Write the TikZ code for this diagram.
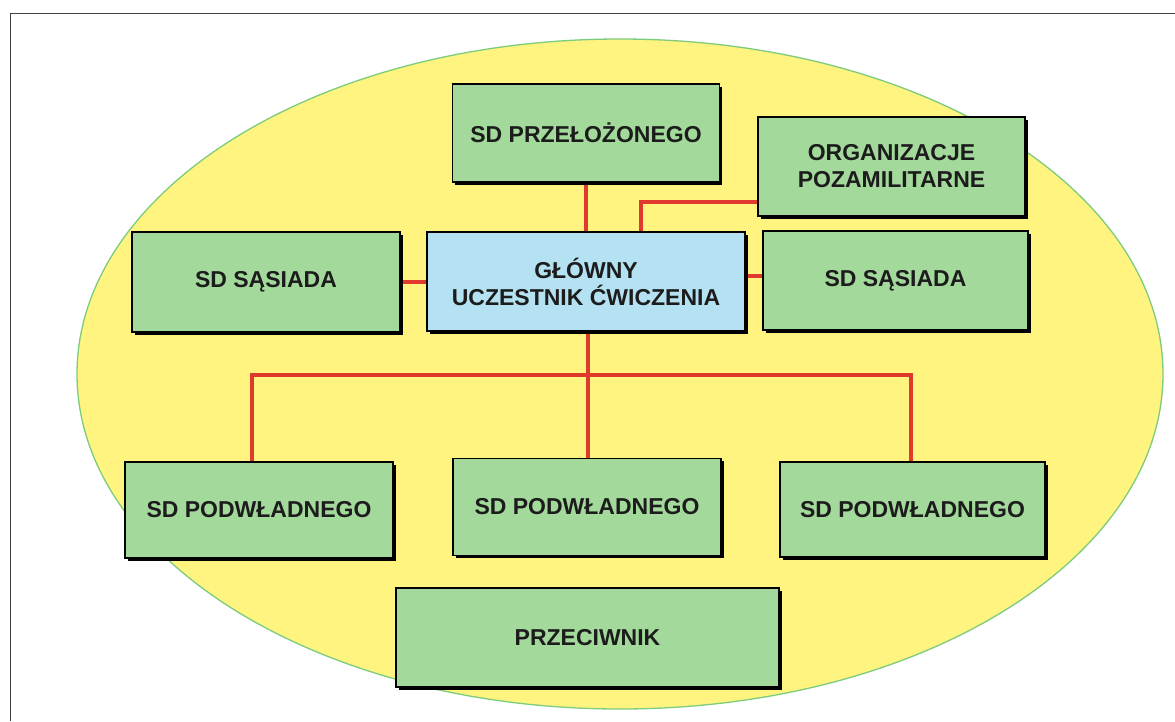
\documentclass[tikz,border=0pt]{standalone}
\usepackage{fontspec}
\setmainfont{Liberation Sans}
\usetikzlibrary{shadows,backgrounds}
\definecolor{ellfill}{HTML}{FFF47F}
\definecolor{ellline}{HTML}{7DCB7D}
\definecolor{boxgreen}{HTML}{A3D99B}
\definecolor{boxblue}{HTML}{B4E2F2}
\definecolor{conred}{HTML}{E0392E}
\definecolor{txt}{HTML}{1C1C1C}
\begin{document}
\begin{tikzpicture}[x=1pt,y=-1pt,
  boxbase/.style={draw=black, line width=1.6pt, rectangle, align=center,
    text=txt, font=\fontsize{23}{27}\selectfont\bfseries,
    drop shadow={shadow xshift=2.6pt, shadow yshift=-2.6pt, fill=black, opacity=1}},
  gbox/.style={boxbase, fill=boxgreen},
  bbox/.style={boxbase, fill=boxblue},
  conn/.style={draw=conred, line width=4pt}]
\useasboundingbox (0,0) rectangle (1175,721);
% nodes
\node[gbox, minimum width=267pt, minimum height=98pt] (prz) at (586,133) {SD PRZEŁOŻONEGO};
\node[gbox, minimum width=267pt, minimum height=99pt] (org) at (891.5,166.5) {ORGANIZACJE\\POZAMILITARNE};
\node[gbox, minimum width=265pt, minimum height=99pt] (sasR) at (895.5,280.5) {SD SĄSIADA};
\node[bbox, minimum width=318pt, minimum height=99pt] (main) at (586,281.5) {GŁÓWNY\\UCZESTNIK ĆWICZENIA};
\node[gbox, minimum width=268pt, minimum height=100pt] (sasL) at (266,282) {SD SĄSIADA};
\node[gbox, minimum width=268pt, minimum height=96pt] (pod1) at (259,510) {SD PODWŁADNEGO};
\node[gbox, minimum width=268pt, minimum height=97pt] (pod2) at (587,507) {SD PODWŁADNEGO};
\node[gbox, minimum width=265pt, minimum height=95pt] (pod3) at (912.5,509.5) {SD PODWŁADNEGO};
\node[gbox, minimum width=383pt, minimum height=99pt] (prc) at (587.5,637.5) {PRZECIWNIK};
\coordinate (bus) at (589,375);
\begin{pgfonlayer}{background}
% frame
\draw[line width=1pt, black!75] (1175,13) -- (10,13) -- (10,721);
% ellipse
\draw[fill=ellfill, draw=ellline, line width=1.3pt] (620,374) ellipse [x radius=543, y radius=335];
% connectors
\draw[conn] (prz.south) -- (prz.south |- main.north);
\draw[conn] ([xshift=55pt]main.north) |- ([yshift=15pt]org.south west);
\draw[conn] (sasL.east) -- (main.west -| sasL.east) -- (main.west);
\draw[conn] ([yshift=6pt]main.east) -- ([yshift=6pt]main.east -| sasR.west);
\draw[conn] ([xshift=2pt]main.south) -- ([xshift=2pt]main.south |- pod2.north);
\draw[conn] ([xshift=-7pt]pod1.north) |- (bus) -| ([xshift=-2pt]pod3.north);
\end{pgfonlayer}
\end{tikzpicture}
\end{document}
